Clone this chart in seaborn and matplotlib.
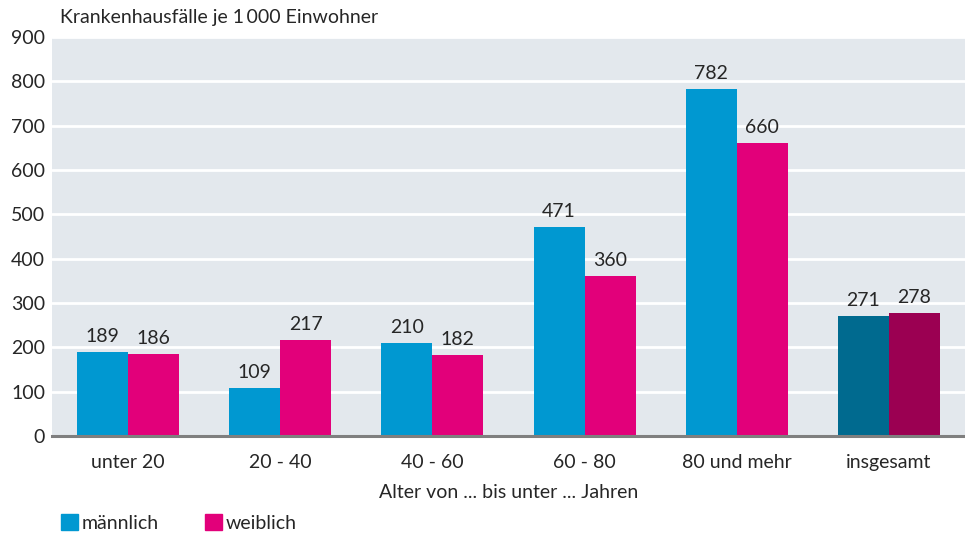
import seaborn as sns
import matplotlib.pyplot as plt
import matplotlib.patches as mpatches
import pandas as pd

groups = ['unter 20', '20 - 40', '40 - 60', '60 - 80', '80 und mehr', 'insgesamt']
maennlich = [189, 109, 210, 471, 782, 271]
weiblich = [186, 217, 182, 360, 660, 278]

blue, magenta = '#0098d1', '#e2007a'
dark_blue, dark_magenta = '#006a8f', '#9b0052'
bg = '#e3e8ed'

df = pd.DataFrame({
    'Gruppe': groups * 2,
    'Wert': maennlich + weiblich,
    'Geschlecht': ['männlich'] * len(groups) + ['weiblich'] * len(groups),
})

sns.set_style('white')
plt.rcParams['font.family'] = ['Lato', 'DejaVu Sans']
fs = 14

fig = plt.figure(figsize=(9.65, 5.36), dpi=100)
ax = fig.add_axes([52 / 965, 100 / 536, 913 / 965, 399 / 536])
ax.set_facecolor(bg)

sns.barplot(data=df, x='Gruppe', y='Wert', hue='Geschlecht',
            palette=[blue, magenta], width=0.67, saturation=1,
            linewidth=0, legend=False, ax=ax, zorder=3)

# darker colours for the "insgesamt" group
for container, dark in zip(ax.containers, [dark_blue, dark_magenta]):
    container.patches[-1].set_facecolor(dark)
    ax.bar_label(container, fmt='%d', padding=5, fontsize=fs)

ax.set_ylim(0, 900)
ax.set_xlim(-0.5, 5.5)
ax.set_yticks(range(0, 901, 100))
ax.yaxis.grid(True, color='white', linewidth=2, zorder=0)
ax.set_axisbelow(True)
ax.tick_params(axis='both', length=0, labelsize=fs)
ax.tick_params(axis='y', pad=5)
ax.tick_params(axis='x', pad=13)

for side in ['top', 'right', 'left']:
    ax.spines[side].set_visible(False)
ax.spines['bottom'].set_color('#7f7f7f')
ax.spines['bottom'].set_linewidth(2.2)
ax.spines['bottom'].set_zorder(5)

ax.set_ylabel('')
ax.set_xlabel('Alter von ... bis unter ... Jahren', fontsize=fs, labelpad=9)

fig.text(60 / 965, 1 - 18 / 536, 'Krankenhausfälle je 1\u2009000 Einwohner',
         fontsize=fs, va='center', ha='left')

handles = [mpatches.Patch(color=blue, label='männlich'),
           mpatches.Patch(color=magenta, label='weiblich')]
fig.legend(handles=handles, loc='center left', ncol=2, frameon=False,
           bbox_to_anchor=(61 / 965, 1 - 523 / 536), fontsize=fs,
           handlelength=0.85, handleheight=0.85, handletextpad=0.2,
           columnspacing=2.4, borderaxespad=0, borderpad=0)

fig.savefig('out.png', dpi=100)
